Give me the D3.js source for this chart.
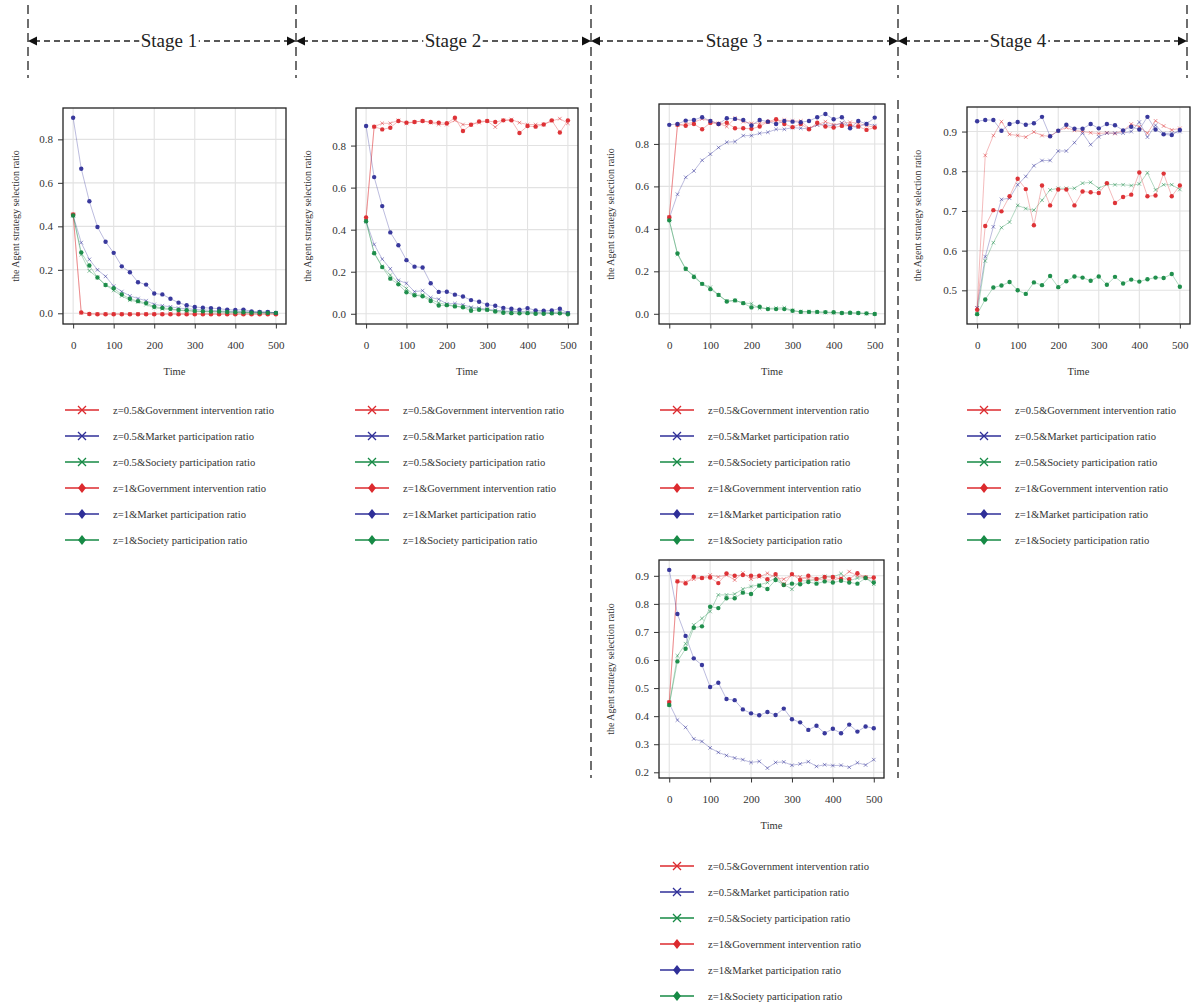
<!DOCTYPE html>
<html>
<head>
<meta charset="utf-8">
<script src="https://cdn.jsdelivr.net/npm/d3@7"></script>
<style>
  body { margin: 0; background: #fff; }
  text { font-family: "Liberation Serif", "DejaVu Serif", serif; fill: #333; }
</style>
</head>
<body>
<div id="chart-area"></div>
<script>
// x values shared by every series
const times = [0, 20, 40, 60, 80, 100, 120, 140, 160, 180, 200, 220, 240, 260, 280, 300, 320, 340, 360, 380, 400, 420, 440, 460, 480, 500]
const xTicks = [0, 100, 200, 300, 400, 500]

const seriesNames = [
  'z=0.5&Government intervention ratio',
  'z=0.5&Market participation ratio',
  'z=0.5&Society participation ratio',
  'z=1&Government intervention ratio',
  'z=1&Market participation ratio',
  'z=1&Society participation ratio'
]
const stageLabels = ['Stage 1', 'Stage 2', 'Stage 3', 'Stage 4']

// Stage 1
const s1Gov05 = [0.455, 0.002, -0.002, -0.003, -0.003, -0.003, -0.003, -0.003, -0.003, -0.003, -0.003, -0.003, -0.003, -0.003, -0.003, -0.003, -0.003, -0.003, -0.003, -0.003, -0.003, -0.003, -0.003, -0.003, -0.003, -0.003]
const s1Mkt05 = [0.45, 0.325, 0.248, 0.2, 0.17, 0.125, 0.1, 0.08, 0.068, 0.058, 0.041, 0.035, 0.03, 0.024, 0.021, 0.018, 0.015, 0.014, 0.011, 0.009, 0.008, 0.008, 0.006, 0.005, 0.005, 0.003]
const s1Soc05 = [0.45, 0.27, 0.195, 0.165, 0.13, 0.105, 0.08, 0.06, 0.053, 0.04, 0.026, 0.02, 0.017, 0.014, 0.011, 0.009, 0.008, 0.007, 0.006, 0.005, 0.004, 0.004, 0.003, 0.003, 0.002, 0.002]
const s1Gov1 = [0.455, 0.004, -0.003, -0.004, -0.004, -0.004, -0.004, -0.004, -0.004, -0.004, -0.004, -0.004, -0.004, -0.004, -0.004, -0.004, -0.004, -0.004, -0.004, -0.004, -0.004, -0.004, -0.004, -0.004, -0.004, -0.004]
const s1Mkt1 = [0.899, 0.665, 0.515, 0.397, 0.329, 0.278, 0.216, 0.189, 0.143, 0.132, 0.091, 0.087, 0.067, 0.049, 0.037, 0.029, 0.026, 0.024, 0.021, 0.017, 0.015, 0.017, 0.009, 0.006, 0.006, 0.002]
const s1Soc1 = [0.45, 0.28, 0.22, 0.165, 0.13, 0.115, 0.087, 0.067, 0.056, 0.047, 0.03, 0.025, 0.021, 0.015, 0.014, 0.011, 0.009, 0.008, 0.008, 0.006, 0.005, 0.005, 0.003, 0.003, 0.002, 0.002]

// Stage 2
const s2Gov05 = [0.455, 0.89, 0.906, 0.906, 0.92, 0.906, 0.912, 0.917, 0.909, 0.9, 0.9, 0.92, 0.9, 0.9, 0.909, 0.917, 0.888, 0.92, 0.924, 0.909, 0.9, 0.9, 0.9, 0.917, 0.928, 0.906]
const s2Mkt05 = [0.44, 0.33, 0.26, 0.214, 0.159, 0.145, 0.105, 0.11, 0.077, 0.069, 0.047, 0.049, 0.043, 0.031, 0.027, 0.022, 0.017, 0.013, 0.011, 0.011, 0.01, 0.008, 0.008, 0.007, 0.008, 0.003]
const s2Soc05 = [0.44, 0.29, 0.225, 0.184, 0.148, 0.12, 0.087, 0.09, 0.068, 0.052, 0.043, 0.038, 0.031, 0.027, 0.022, 0.017, 0.014, 0.011, 0.009, 0.007, 0.006, 0.005, 0.004, 0.003, 0.003, 0.002]
const s2Gov1 = [0.458, 0.89, 0.877, 0.885, 0.917, 0.909, 0.912, 0.917, 0.912, 0.909, 0.906, 0.932, 0.869, 0.899, 0.915, 0.917, 0.912, 0.92, 0.92, 0.86, 0.893, 0.89, 0.9, 0.92, 0.862, 0.92]
const s2Mkt1 = [0.893, 0.65, 0.512, 0.387, 0.326, 0.255, 0.224, 0.22, 0.145, 0.104, 0.105, 0.091, 0.082, 0.065, 0.057, 0.043, 0.038, 0.028, 0.024, 0.019, 0.027, 0.016, 0.014, 0.016, 0.024, 0.003]
const s2Soc1 = [0.44, 0.288, 0.222, 0.167, 0.14, 0.102, 0.088, 0.083, 0.061, 0.039, 0.041, 0.035, 0.031, 0.014, 0.019, 0.019, 0.011, 0.005, 0.003, 0.002, 0.003, 0.0, 0.0, 0.002, 0.002, -0.002]

// Stage 3 (top)
const s3Gov05 = [0.455, 0.89, 0.894, 0.902, 0.918, 0.908, 0.897, 0.882, 0.921, 0.905, 0.897, 0.897, 0.902, 0.908, 0.913, 0.908, 0.908, 0.874, 0.89, 0.905, 0.89, 0.897, 0.902, 0.897, 0.886, 0.879]
const s3Mkt05 = [0.45, 0.563, 0.643, 0.673, 0.723, 0.752, 0.783, 0.808, 0.811, 0.839, 0.839, 0.85, 0.855, 0.869, 0.869, 0.877, 0.874, 0.871, 0.89, 0.89, 0.885, 0.899, 0.882, 0.879, 0.897, 0.886]
const s3Soc05 = [0.44, 0.28, 0.21, 0.18, 0.14, 0.125, 0.088, 0.06, 0.062, 0.052, 0.047, 0.025, 0.025, 0.027, 0.029, 0.015, 0.01, 0.01, 0.008, 0.006, 0.005, 0.004, 0.003, 0.003, 0.001, 0.0]
const s3Gov1 = [0.455, 0.89, 0.886, 0.894, 0.869, 0.899, 0.894, 0.9, 0.874, 0.874, 0.871, 0.882, 0.905, 0.916, 0.894, 0.879, 0.894, 0.869, 0.9, 0.882, 0.877, 0.885, 0.886, 0.882, 0.866, 0.877]
const s3Mkt1 = [0.89, 0.894, 0.91, 0.913, 0.926, 0.908, 0.894, 0.921, 0.918, 0.913, 0.887, 0.913, 0.905, 0.894, 0.908, 0.905, 0.902, 0.908, 0.926, 0.941, 0.916, 0.926, 0.874, 0.908, 0.894, 0.924]
const s3Soc1 = [0.44, 0.284, 0.212, 0.173, 0.141, 0.116, 0.089, 0.058, 0.063, 0.05, 0.03, 0.033, 0.022, 0.022, 0.022, 0.014, 0.009, 0.009, 0.009, 0.008, 0.007, 0.004, 0.005, 0.004, 0.002, -0.001]

// Stage 4
const s4Gov05 = [0.455, 0.84, 0.89, 0.925, 0.893, 0.89, 0.886, 0.899, 0.89, 0.888, 0.902, 0.91, 0.903, 0.9, 0.897, 0.895, 0.897, 0.895, 0.902, 0.919, 0.912, 0.896, 0.927, 0.914, 0.904, 0.908]
const s4Mkt05 = [0.456, 0.585, 0.66, 0.729, 0.732, 0.766, 0.787, 0.814, 0.827, 0.827, 0.851, 0.851, 0.872, 0.896, 0.867, 0.887, 0.896, 0.896, 0.896, 0.9, 0.924, 0.886, 0.916, 0.895, 0.896, 0.9]
const s4Soc05 = [0.44, 0.574, 0.62, 0.658, 0.672, 0.714, 0.706, 0.702, 0.727, 0.753, 0.757, 0.757, 0.757, 0.77, 0.772, 0.757, 0.767, 0.766, 0.766, 0.764, 0.768, 0.796, 0.753, 0.766, 0.766, 0.754]
const s4Gov1 = [0.451, 0.662, 0.702, 0.699, 0.737, 0.781, 0.755, 0.664, 0.764, 0.714, 0.754, 0.754, 0.714, 0.749, 0.747, 0.745, 0.77, 0.72, 0.735, 0.741, 0.797, 0.737, 0.739, 0.794, 0.737, 0.764]
const s4Mkt1 = [0.926, 0.929, 0.929, 0.902, 0.919, 0.924, 0.917, 0.921, 0.937, 0.888, 0.902, 0.917, 0.907, 0.907, 0.919, 0.908, 0.919, 0.916, 0.903, 0.912, 0.905, 0.937, 0.905, 0.893, 0.891, 0.904]
const s4Soc1 = [0.44, 0.477, 0.507, 0.512, 0.521, 0.5, 0.491, 0.52, 0.513, 0.536, 0.508, 0.523, 0.535, 0.532, 0.524, 0.535, 0.514, 0.534, 0.517, 0.527, 0.522, 0.528, 0.532, 0.531, 0.541, 0.509]

// Stage 3 (bottom)
const s5Gov05 = [0.45, 0.882, 0.878, 0.888, 0.892, 0.903, 0.896, 0.903, 0.885, 0.91, 0.888, 0.896, 0.909, 0.894, 0.888, 0.903, 0.896, 0.888, 0.888, 0.885, 0.885, 0.892, 0.915, 0.9, 0.894, 0.888]
const s5Mkt05 = [0.445, 0.386, 0.36, 0.319, 0.31, 0.287, 0.271, 0.26, 0.251, 0.245, 0.235, 0.239, 0.215, 0.235, 0.237, 0.225, 0.23, 0.238, 0.221, 0.227, 0.224, 0.225, 0.218, 0.234, 0.226, 0.245]
const s5Soc05 = [0.44, 0.615, 0.658, 0.725, 0.748, 0.773, 0.832, 0.832, 0.835, 0.853, 0.862, 0.868, 0.876, 0.893, 0.87, 0.852, 0.882, 0.882, 0.886, 0.898, 0.895, 0.908, 0.882, 0.892, 0.893, 0.87]
const s5Gov1 = [0.45, 0.88, 0.873, 0.897, 0.892, 0.894, 0.874, 0.908, 0.9, 0.903, 0.9, 0.9, 0.888, 0.906, 0.868, 0.906, 0.885, 0.9, 0.889, 0.896, 0.896, 0.889, 0.888, 0.909, 0.894, 0.894]
const s5Mkt1 = [0.921, 0.764, 0.686, 0.606, 0.582, 0.504, 0.519, 0.461, 0.457, 0.424, 0.41, 0.403, 0.415, 0.404, 0.427, 0.389, 0.378, 0.351, 0.366, 0.339, 0.355, 0.339, 0.37, 0.345, 0.363, 0.357]
const s5Soc1 = [0.44, 0.595, 0.64, 0.715, 0.72, 0.79, 0.785, 0.82, 0.82, 0.84, 0.835, 0.865, 0.853, 0.885, 0.867, 0.872, 0.87, 0.878, 0.872, 0.88, 0.876, 0.882, 0.876, 0.872, 0.892, 0.876]

const yTicksLow = [0, 0.2, 0.4, 0.6, 0.8]
const yTicksS4 = [0.5, 0.6, 0.7, 0.8, 0.9]
const yTicksS5 = [0.2, 0.3, 0.4, 0.5, 0.6, 0.7, 0.8, 0.9]

const colors = ['#dc2a2e', '#2f2f98', '#168a45']

// layout of each small chart
const panels = [
  { left: 63, right: 286, top: 108, bottom: 324, labelX: 15, legX: 65, legY: 410,
    series: [s1Gov05, s1Mkt05, s1Soc05, s1Gov1, s1Mkt1, s1Soc1], yTicks: yTicksLow },
  { left: 356, right: 578, top: 108, bottom: 324, labelX: 307, legX: 355, legY: 410,
    series: [s2Gov05, s2Mkt05, s2Soc05, s2Gov1, s2Mkt1, s2Soc1], yTicks: yTicksLow },
  { left: 659, right: 885, top: 104, bottom: 324, labelX: 610, legX: 660, legY: 410,
    series: [s3Gov05, s3Mkt05, s3Soc05, s3Gov1, s3Mkt1, s3Soc1], yTicks: yTicksLow },
  { left: 967, right: 1190, top: 107, bottom: 324, labelX: 917, legX: 967, legY: 410,
    series: [s4Gov05, s4Mkt05, s4Soc05, s4Gov1, s4Mkt1, s4Soc1], yTicks: yTicksS4 },
  { left: 659, right: 884, top: 560, bottom: 778, labelX: 610, legX: 660, legY: 866,
    series: [s5Gov05, s5Mkt05, s5Soc05, s5Gov1, s5Mkt1, s5Soc1], yTicks: yTicksS5 }
]

const svg = d3.select('#chart-area').append('svg')
  .attr('width', 1192)
  .attr('height', 1006)

// ---- stage header ----
const header = svg.append('g').attr('class', 'header')
const bounds = [28, 296, 591, 898, 1187]
const labelCx = [169, 453, 734, 1018]
const arrowY = 41

bounds.forEach(bx => {
  header.append('line')
    .attr('x1', bx).attr('x2', bx)
    .attr('y1', 5).attr('y2', bx === 591 ? 778 : 78)
    .attr('stroke', '#222').attr('stroke-width', 1.3)
    .attr('stroke-dasharray', '9,5')
})
header.append('line')
  .attr('x1', 898).attr('x2', 898)
  .attr('y1', 100).attr('y2', 778)
  .attr('stroke', '#222').attr('stroke-width', 1.3)
  .attr('stroke-dasharray', '9,5')

stageLabels.forEach((lab, i) => {
  const a = bounds[i], b = bounds[i + 1]
  header.append('line')
    .attr('x1', a + 6).attr('x2', b - 6)
    .attr('y1', arrowY).attr('y2', arrowY)
    .attr('stroke', '#222').attr('stroke-width', 1.3)
    .attr('stroke-dasharray', '6,4')
  header.append('path')
    .attr('d', `M${a},${arrowY} l9,-4.5 l0,9 z`)
    .attr('fill', '#111')
  header.append('path')
    .attr('d', `M${b},${arrowY} l-9,-4.5 l0,9 z`)
    .attr('fill', '#111')
  const t = header.append('text')
    .attr('x', labelCx[i])
    .attr('y', arrowY)
    .attr('dy', '0.33em')
    .attr('text-anchor', 'middle')
    .attr('font-size', '19px')
    .style('fill', '#222')
    .text(lab)
  const bb = t.node().getBBox()
  header.insert('rect', () => t.node())
    .attr('x', bb.x - 1.5).attr('y', arrowY - 3)
    .attr('width', bb.width + 3).attr('height', 6)
    .attr('fill', '#fff')
})

// ---- panels ----
panels.forEach(p => {
  const g = svg.append('g')
  const all = p.series.flat()
  const [lo, hi] = d3.extent(all)
  const pad = (hi - lo) * 0.05

  const x = d3.scaleLinear().domain([-25, 525]).range([p.left, p.right])
  const y = d3.scaleLinear().domain([lo - pad, hi + pad]).range([p.bottom, p.top])

  // grid
  g.selectAll('.gx').data(xTicks).enter().append('line')
    .attr('x1', d => x(d)).attr('x2', d => x(d))
    .attr('y1', p.top).attr('y2', p.bottom)
    .attr('stroke', '#e2e2e2').attr('stroke-width', 1.1)
  g.selectAll('.gy').data(p.yTicks).enter().append('line')
    .attr('x1', p.left).attr('x2', p.right)
    .attr('y1', d => y(d)).attr('y2', d => y(d))
    .attr('stroke', '#e2e2e2').attr('stroke-width', 1.1)

  // lines + markers
  const line = d3.line().x((d, i) => x(times[i])).y(d => y(d))
  p.series.forEach((vals, k) => {
    const c = colors[k % 3]
    g.append('path')
      .attr('d', line(vals))
      .attr('fill', 'none')
      .attr('stroke', c)
      .attr('stroke-width', 1)
      .attr('stroke-opacity', 0.32)
  })
  p.series.forEach((vals, k) => {
    const c = colors[k % 3]
    if (k < 3) {
      g.selectAll(null).data(vals).enter().append('path')
        .attr('transform', (d, i) => `translate(${x(times[i])},${y(d)})`)
        .attr('d', 'M-1.8,-1.8L1.8,1.8M-1.8,1.8L1.8,-1.8')
        .attr('stroke', c).attr('stroke-width', 1)
        .attr('stroke-opacity', 0.5)
        .attr('fill', 'none')
    } else {
      g.selectAll(null).data(vals).enter().append('circle')
        .attr('cx', (d, i) => x(times[i]))
        .attr('cy', d => y(d))
        .attr('r', 2.2)
        .attr('fill', c)
        .attr('fill-opacity', 0.95)
    }
  })

  // frame
  g.append('rect')
    .attr('x', p.left).attr('y', p.top)
    .attr('width', p.right - p.left).attr('height', p.bottom - p.top)
    .attr('fill', 'none').attr('stroke', '#222').attr('stroke-width', 1.3)

  // axes
  const xAxis = g.append('g')
    .attr('transform', `translate(0,${p.bottom})`)
    .call(d3.axisBottom(x).tickValues(xTicks).tickSize(4.5).tickPadding(13))
  const yAxis = g.append('g')
    .attr('transform', `translate(${p.left},0)`)
    .call(d3.axisLeft(y).tickValues(p.yTicks).tickSize(5).tickPadding(5).tickFormat(d3.format('.1f')))
  ;[xAxis, yAxis].forEach(ax => {
    ax.select('.domain').remove()
    ax.selectAll('line').attr('stroke', '#333')
    ax.selectAll('text')
      .attr('font-family', '"Liberation Serif", serif')
      .attr('font-size', '11px')
      .style('fill', '#333')
  })

  g.append('text')
    .attr('x', (p.left + p.right) / 2)
    .attr('y', p.bottom + 51)
    .attr('text-anchor', 'middle')
    .attr('font-size', '10.5px')
    .text('Time')

  g.append('text')
    .attr('transform', `translate(${p.labelX},${(p.top + p.bottom) / 2}) rotate(-90)`)
    .attr('dy', '0.35em')
    .attr('text-anchor', 'middle')
    .attr('font-size', '10px')
    .text('the Agent strategy selection ratio')

  // legend
  seriesNames.forEach((name, k) => {
    const ly = p.legY + k * 26
    const c = colors[k % 3]
    g.append('line')
      .attr('x1', p.legX).attr('x2', p.legX + 34)
      .attr('y1', ly).attr('y2', ly)
      .attr('stroke', c).attr('stroke-width', 1.3)
    const mx = p.legX + 17
    if (k < 3) {
      g.append('path')
        .attr('d', `M${mx - 4},${ly - 4}L${mx + 4},${ly + 4}M${mx - 4},${ly + 4}L${mx + 4},${ly - 4}`)
        .attr('stroke', c).attr('stroke-width', 1.3)
    } else {
      g.append('path')
        .attr('d', `M${mx},${ly - 5}L${mx + 4},${ly}L${mx},${ly + 5}L${mx - 4},${ly}Z`)
        .attr('fill', c)
    }
    g.append('text')
      .attr('x', p.legX + 48)
      .attr('y', ly)
      .attr('dy', '0.35em')
      .attr('font-size', '10.6px')
      .text(name)
  })
})
</script>
</body>
</html>
